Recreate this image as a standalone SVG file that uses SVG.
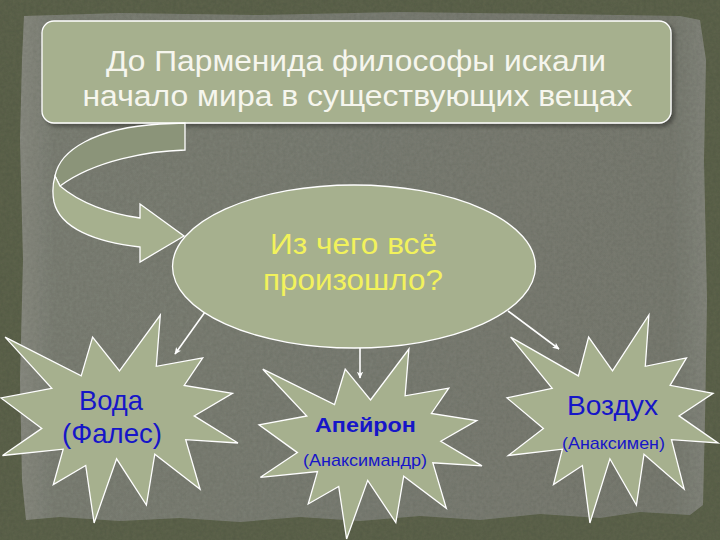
<svg xmlns="http://www.w3.org/2000/svg" width="720" height="540" viewBox="0 0 720 540">
  <defs>
    <filter id="grain" x="0" y="0" width="100%" height="100%">
      <feTurbulence type="fractalNoise" baseFrequency="0.3" numOctaves="3" seed="4" result="n"/>
      <feColorMatrix in="n" type="matrix" values="0 0 0 0 0  0 0 0 0 0  0 0 0 0 0  0 0 0 0.22 0" result="a"/>
      <feComposite in="a" in2="SourceGraphic" operator="in" result="b"/>
      <feMerge><feMergeNode in="SourceGraphic"/><feMergeNode in="b"/></feMerge>
    </filter>
    <filter id="shadow" x="-5%" y="-5%" width="112%" height="120%">
      <feGaussianBlur in="SourceAlpha" stdDeviation="2"/>
      <feOffset dx="3" dy="3" result="o"/>
      <feComponentTransfer><feFuncA type="linear" slope="0.35"/></feComponentTransfer>
      <feMerge><feMergeNode/><feMergeNode in="SourceGraphic"/></feMerge>
    </filter>
    <linearGradient id="paper" x1="0" y1="0" x2="1" y2="0">
      <stop offset="0" stop-color="#8a8c82"/>
      <stop offset="0.05" stop-color="#7e8176"/>
      <stop offset="0.95" stop-color="#7a7d72"/>
      <stop offset="1" stop-color="#85877d"/>
    </linearGradient>
    <marker id="arr" viewBox="0 0 10 10" refX="9" refY="5" markerWidth="7" markerHeight="7" orient="auto" markerUnits="userSpaceOnUse">
      <path d="M0,0.5 L10,5 L0,9.5 L2.5,5 Z" fill="#ffffff"/>
    </marker>
    <style>
      .node { fill: #a6b08e; stroke: #ffffff; stroke-width: 1.3; }
      .back { fill: #8b9479; stroke: #ffffff; stroke-width: 1.3; }
      .conn { stroke: #ffffff; stroke-width: 1.6; fill: none; marker-end: url(#arr); }
      .head { font-family: "Liberation Sans", Arial, sans-serif; font-size: 30px; fill: #f6f6ee; text-anchor: middle; }
      .q { font-family: "Liberation Sans", Arial, sans-serif; font-size: 30px; fill: #f2f25c; text-anchor: middle; }
      .big { font-family: "Liberation Sans", Arial, sans-serif; font-size: 28px; fill: #1616c8; text-anchor: middle; }
      .bold { font-family: "Liberation Sans", Arial, sans-serif; font-size: 20px; font-weight: bold; fill: #1616c8; text-anchor: middle; }
      .small { font-family: "Liberation Sans", Arial, sans-serif; font-size: 17px; fill: #1616c8; text-anchor: middle; }
    </style>
  </defs>

  <!-- background -->
  <rect x="0" y="0" width="720" height="540" fill="#5e654e" filter="url(#grain)"/>
  <path d="M24,16 L120,13 L260,15 L400,12 L560,14 L680,16 L700,20 L706,60 L704,160 L707,300 L705,420 L703,505 L690,515 L640,512 L600,518 L540,514 L480,520 L420,516 L360,521 L300,517 L240,522 L180,518 L120,521 L60,517 L26,520 L22,480 L20,380 L23,260 L20,140 L22,60 Z" fill="url(#paper)" filter="url(#grain)"/>

  <!-- connectors -->
  <g id="connectors">
    <line class="conn" x1="205" y1="312" x2="175" y2="354"/>
    <line class="conn" x1="360" y1="348" x2="360" y2="378"/>
    <line class="conn" x1="508" y1="311" x2="559" y2="349"/>
  </g>

  <!-- top box -->
  <g id="intro">
    <rect class="node" x="42" y="21" width="629" height="102" rx="12" ry="12" filter="url(#shadow)"/>
    <text class="head" x="356" y="71" textLength="500" lengthAdjust="spacingAndGlyphs">До Парменида философы искали</text>
    <text class="head" x="357.5" y="106" textLength="550" lengthAdjust="spacingAndGlyphs">начало мира в существующих вещах</text>
  </g>

  <!-- curved arrow -->
  <g id="curved-arrow">
    <path class="back" d="M185,123 L185,150 C150,151 95,160 60,186 L55,176 C60,150 95,128 160,124 Z"/>
    <path class="node" d="M60,186 C80,203 110,214 140,218 L140,204 L184,236 L140,262 L140,247 C95,242 60,228 54,202 C52,192 53,183 55,176 Z"/>
  </g>

  <!-- ellipse -->
  <g id="question">
    <ellipse class="node" cx="354" cy="266.5" rx="181.5" ry="81.5"/>
    <text class="q" x="353.5" y="254" textLength="167" lengthAdjust="spacingAndGlyphs">Из чего всё</text>
    <text class="q" x="353" y="290" textLength="180" lengthAdjust="spacingAndGlyphs">произошло?</text>
  </g>

  <!-- star 1 -->
  <g id="voda">
    <polygon class="node" points="119.5,370.9 160.3,315 156.3,366.3 202.7,357.9 184.2,385.4 232.5,393.4 194.2,415.9 238,443 185.7,439.6 200.1,489.2 154.8,454.2 146.4,505 116.6,458.8 94.1,523 85.7,465.5 53.3,484.6 63.2,449.2 2.5,455.5 41.8,428.4 1,397.9 51.8,388.3 5.1,337.1 81.2,375.9 92.6,337.1"/>
    <text class="big" x="111" y="410" textLength="64" lengthAdjust="spacingAndGlyphs">Вода</text>
    <text class="big" x="112" y="443" textLength="100" lengthAdjust="spacingAndGlyphs">(Фалес)</text>
  </g>

  <!-- star 2 -->
  <g id="apeiron">
    <polygon class="node" points="370.5,400 408.9,349 405.1,395.8 448.8,388.2 431.4,413.4 476.8,420.6 440.8,441.2 482,465.9 432.8,462.8 446.3,508.2 403.7,476.2 395.8,522.6 367.7,480.4 346.6,539 338.7,486.5 308.2,504 317.5,471.6 260.4,477.3 297.4,452.6 259,424.8 306.8,416 262.8,369.2 334.5,404.6 345.2,369.2"/>
    <text class="bold" x="365.5" y="432" textLength="101" lengthAdjust="spacingAndGlyphs">Апейрон</text>
    <text class="small" x="365" y="466" textLength="124" lengthAdjust="spacingAndGlyphs">(Анаксимандр)</text>
  </g>

  <!-- star 3 -->
  <g id="vozdukh">
    <polygon class="node" points="612.5,370.9 648.9,315 645.3,366.3 686.5,357.9 670.1,385.4 713.1,393.4 679,415.9 718,443 671.5,439.6 684.2,489.2 644,454.2 636.4,505 609.9,458.8 589.9,523 582.4,465.5 553.5,484.6 562.4,449.2 508.3,455.5 543.4,428.4 507,397.9 552.2,388.3 510.6,337.1 578.4,375.9 588.6,337.1"/>
    <text class="big" x="612.5" y="415" textLength="91" lengthAdjust="spacingAndGlyphs">Воздух</text>
    <text class="small" x="613.5" y="449" textLength="103" lengthAdjust="spacingAndGlyphs">(Анаксимен)</text>
  </g>
</svg>
